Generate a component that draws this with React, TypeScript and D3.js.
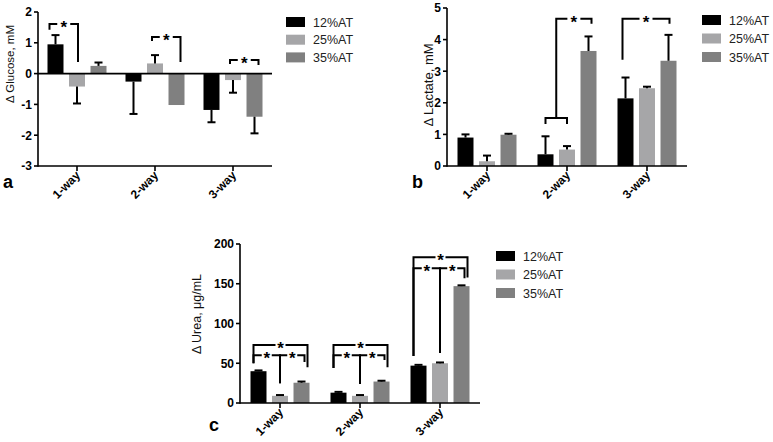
import React from "react";
import * as d3 from "d3";

const categories = ["1-way", "2-way", "3-way"];
const seriesNames = ["12%AT", "25%AT", "35%AT"];
const seriesColors = ["#000000", "#a6a6a8", "#808080"];

// Panel a: Δ Glucose (mM)
const glucose12 = [0.95, -0.26, -1.18];
const glucose25 = [-0.42, 0.33, -0.21];
const glucose35 = [0.25, -1.02, -1.4];
const glucoseErr12 = [0.3, 1.05, 0.4];
const glucoseErr25 = [0.55, 0.27, 0.41];
const glucoseErr35 = [0.11, 0.0, 0.54];
const glucoseTicks = [-3, -2, -1, 0, 1, 2];

// Panel b: Δ Lactate (mM)
const lactate12 = [0.9, 0.37, 2.14];
const lactate25 = [0.15, 0.52, 2.46];
const lactate35 = [0.99, 3.64, 3.33];
const lactateErr12 = [0.1, 0.57, 0.66];
const lactateErr25 = [0.18, 0.11, 0.05];
const lactateErr35 = [0.03, 0.46, 0.82];
const lactateTicks = [0, 1, 2, 3, 4, 5];

// Panel c: Δ Urea (µg/mL)
const urea12 = [40, 13, 47];
const urea25 = [9, 9, 50];
const urea35 = [25.5, 27, 147];
const ureaErr12 = [1, 1, 1];
const ureaErr25 = [1, 1, 1];
const ureaErr35 = [1.5, 1, 1];
const ureaTicks = [0, 50, 100, 150, 200];

// significance brackets: category, series from/to, bracket level, leg ends, star
type Bracket = { cat: number; from: number; to: number; level: number; endFrom: number; endTo: number; star: boolean; dxFrom?: number; dxTo?: number };

const glucoseBrackets: Bracket[] = [
  { cat: 0, from: 0, to: 1, level: 1.61, endFrom: 1.42, endTo: 0.38, star: true, dxFrom: -6, dxTo: 1 },
  { cat: 1, from: 1, to: 2, level: 1.19, endFrom: 1.06, endTo: 0.38, star: true, dxFrom: -3, dxTo: 4 },
  { cat: 2, from: 1, to: 2, level: 0.44, endFrom: 0.31, endTo: 0.28, star: true, dxFrom: -3, dxTo: 4 },
];
const lactateBrackets: Bracket[] = [
  { cat: 1, from: 0, to: 1, level: 1.52, endFrom: 1.33, endTo: 1.33, star: false, dxFrom: 0, dxTo: 0 },
  { cat: 1, from: 0.5, to: 2, level: 4.66, endFrom: 1.52, endTo: 4.5, star: true, dxFrom: 0, dxTo: 3 },
  { cat: 2, from: 0, to: 2, level: 4.66, endFrom: 3.36, endTo: 4.5, star: true, dxFrom: -3, dxTo: 1 },
];
const ureaBrackets: Bracket[] = [
  { cat: 0, from: 0, to: 2, level: 73, endFrom: 50, endTo: 45, star: true, dxFrom: -5, dxTo: 6 },
  { cat: 0, from: 0, to: 1, level: 60, endFrom: 50, endTo: 25, star: true, dxFrom: -5, dxTo: 0 },
  { cat: 0, from: 1, to: 2, level: 60, endFrom: 25, endTo: 51.5, star: true, dxFrom: 0, dxTo: 3 },
  { cat: 1, from: 0, to: 2, level: 73, endFrom: 44, endTo: 45, star: true, dxFrom: -5, dxTo: 6 },
  { cat: 1, from: 0, to: 1, level: 60, endFrom: 44, endTo: 24, star: true, dxFrom: -5, dxTo: 0 },
  { cat: 1, from: 1, to: 2, level: 60, endFrom: 24, endTo: 54, star: true, dxFrom: 0, dxTo: 3 },
  { cat: 2, from: 0, to: 2, level: 183.4, endFrom: 59, endTo: 158, star: true, dxFrom: -5, dxTo: 6 },
  { cat: 2, from: 0, to: 1, level: 169.6, endFrom: 59, endTo: 63, star: true, dxFrom: -5, dxTo: 0 },
  { cat: 2, from: 1, to: 2, level: 169.6, endFrom: 63, endTo: 157, star: true, dxFrom: 0, dxTo: 3 },
];

type PanelCfg = {
  values: number[][];
  errors: number[][];
  ticks: number[];
  yDomain: [number, number];
  yRange: [number, number];
  xRange: [number, number];
  title: string;
  titleX: number;
  titleY: number;
  titleSize: number;
  letter: string;
  letterX: number;
  letterY: number;
  legendX: number;
  legendY: number;
  legendDy: number;
  brackets: Bracket[];
  starGap: number;
  zeroLine: boolean;
};

const FONT = "'Liberation Sans', Arial, Helvetica, sans-serif";

function Panel({ cfg }: { cfg: PanelCfg }) {
  const y = d3.scaleLinear().domain(cfg.yDomain).range(cfg.yRange);
  const x = d3.scaleBand<string>().domain(categories).range(cfg.xRange).paddingInner(0).paddingOuter(0);
  const inner = d3.scaleBand<number>().domain([0, 1, 2]).range([-29.5, 29.5]).paddingInner(0.256);
  const bw = inner.bandwidth();
  const step = inner.step();
  const catCenter = (i: number) => (x(categories[i]) as number) + x.bandwidth() / 2;
  const serCenter = (c: number, s: number) => catCenter(c) + (inner(0) as number) + bw / 2 + s * step;
  const axisX = cfg.xRange[0];
  const axisRight = cfg.xRange[1];
  const bottom = cfg.yRange[0];
  const top = cfg.yRange[1];
  const y0 = y(0);
  const sw = 1.6;

  return (
    <g>
      {cfg.values.map((ser, s) =>
        ser.map((v, c) => {
          const cx = serCenter(c, s);
          const yv = y(v);
          const e = cfg.errors[s][c];
          const ye = y(v + Math.sign(v) * e);
          return (
            <g key={`b${s}-${c}`}>
              <rect x={cx - bw / 2} y={Math.min(yv, y0)} width={bw} height={Math.abs(yv - y0)} fill={seriesColors[s]} />
              {e > 0 && (
                <g stroke="#000" strokeWidth={2} fill="none">
                  <line x1={cx} x2={cx} y1={yv} y2={ye} />
                  <line x1={cx - 4} x2={cx + 4} y1={ye} y2={ye} />
                </g>
              )}
            </g>
          );
        })
      )}
      <g stroke="#000" strokeWidth={sw} fill="none">
        <line x1={axisX} x2={axisX} y1={top} y2={bottom + sw / 2} />
        <line x1={axisX} x2={axisRight} y1={bottom} y2={bottom} />
        {cfg.zeroLine && <line x1={axisX} x2={axisRight} y1={y0} y2={y0} />}
        {cfg.ticks.map((t) => (
          <line key={`yt${t}`} x1={axisX - 4} x2={axisX} y1={y(t)} y2={y(t)} />
        ))}
        {categories.map((c, i) => (
          <line key={`xt${c}`} x1={catCenter(i)} x2={catCenter(i)} y1={bottom} y2={bottom + 5} />
        ))}
      </g>
      {cfg.ticks.map((t) => (
        <text key={`yl${t}`} x={axisX - 6} y={y(t)} dy="0.36em" textAnchor="end" fontFamily={FONT} fontWeight="bold" fontSize={12} fill="#000">
          {t}
        </text>
      ))}
      {categories.map((c, i) => {
        const px = catCenter(i) + 4;
        const py = bottom + 10;
        return (
          <text key={`xl${c}`} x={px} y={py} textAnchor="end" transform={`rotate(-45 ${px} ${py})`} fontFamily={FONT} fontWeight="bold" fontSize={12} fill="#000">
            {c}
          </text>
        );
      })}
      <text x={cfg.titleX} y={cfg.titleY} textAnchor="middle" transform={`rotate(-90 ${cfg.titleX} ${cfg.titleY})`} dy="0.35em" fontFamily={FONT} fontSize={cfg.titleSize} fill="#111">
        {cfg.title}
      </text>
      <text x={cfg.letterX} y={cfg.letterY} fontFamily={FONT} fontWeight="bold" fontSize={18} fill="#000">
        {cfg.letter}
      </text>
      {cfg.brackets.map((b, i) => {
        const x1 = serCenter(b.cat, b.from) + (b.dxFrom || 0);
        const x2 = serCenter(b.cat, b.to) + (b.dxTo || 0);
        const yl = y(b.level);
        const mid = (x1 + x2) / 2;
        const gap = b.star ? cfg.starGap : 0;
        return (
          <g key={`br${i}`}>
            <path
              d={`M${x1},${y(b.endFrom)}V${yl}H${mid - gap}M${mid + gap},${yl}H${x2}V${y(b.endTo)}`}
              stroke="#000"
              strokeWidth={2}
              fill="none"
            />
            {b.star && (
              <text x={mid} y={yl + 9} textAnchor="middle" fontFamily={FONT} fontWeight="bold" fontSize={17} fill="#000">
                *
              </text>
            )}
          </g>
        );
      })}
      {seriesNames.map((n, s) => (
        <g key={`lg${n}`} transform={`translate(${cfg.legendX},${cfg.legendY + s * cfg.legendDy})`}>
          <rect x={0} y={0} width={19} height={10} fill={seriesColors[s]} />
          <text x={27} y={9.5} fontFamily={FONT} fontSize={12.5} fill="#222">
            {n}
          </text>
        </g>
      ))}
    </g>
  );
}

const panels: PanelCfg[] = [
  {
    values: [glucose12, glucose25, glucose35],
    errors: [glucoseErr12, glucoseErr25, glucoseErr35],
    ticks: glucoseTicks,
    yDomain: [-3, 2],
    yRange: [166, 12],
    xRange: [38, 272],
    title: "Δ Glucose, mM",
    titleX: 10,
    titleY: 64,
    titleSize: 11.5,
    letter: "a",
    letterX: 3,
    letterY: 188,
    legendX: 286,
    legendY: 17,
    legendDy: 17.7,
    brackets: glucoseBrackets,
    starGap: 6.5,
    zeroLine: true,
  },
  {
    values: [lactate12, lactate25, lactate35],
    errors: [lactateErr12, lactateErr25, lactateErr35],
    ticks: lactateTicks,
    yDomain: [0, 5],
    yRange: [166, 8],
    xRange: [447, 687],
    title: "Δ Lactate, mM",
    titleX: 428,
    titleY: 85,
    titleSize: 13,
    letter: "b",
    letterX: 412,
    letterY: 188,
    legendX: 702,
    legendY: 15,
    legendDy: 18.5,
    brackets: lactateBrackets,
    starGap: 6.5,
    zeroLine: false,
  },
  {
    values: [urea12, urea25, urea35],
    errors: [ureaErr12, ureaErr25, ureaErr35],
    ticks: ureaTicks,
    yDomain: [0, 200],
    yRange: [403, 244],
    xRange: [240, 480],
    title: "Δ Urea, μg/mL",
    titleX: 197,
    titleY: 314,
    titleSize: 12.5,
    letter: "c",
    letterX: 209,
    letterY: 431,
    legendX: 496,
    legendY: 251,
    legendDy: 18.5,
    brackets: ureaBrackets,
    starGap: 5,
    zeroLine: false,
  },
];

export default function App() {
  return (
    <svg width={773} height={442} style={{ position: "absolute", left: 0, top: 0, background: "#fff" }}>
      <rect width={773} height={442} fill="#fff" />
      {panels.map((p, i) => (
        <Panel key={i} cfg={p} />
      ))}
    </svg>
  );
}
